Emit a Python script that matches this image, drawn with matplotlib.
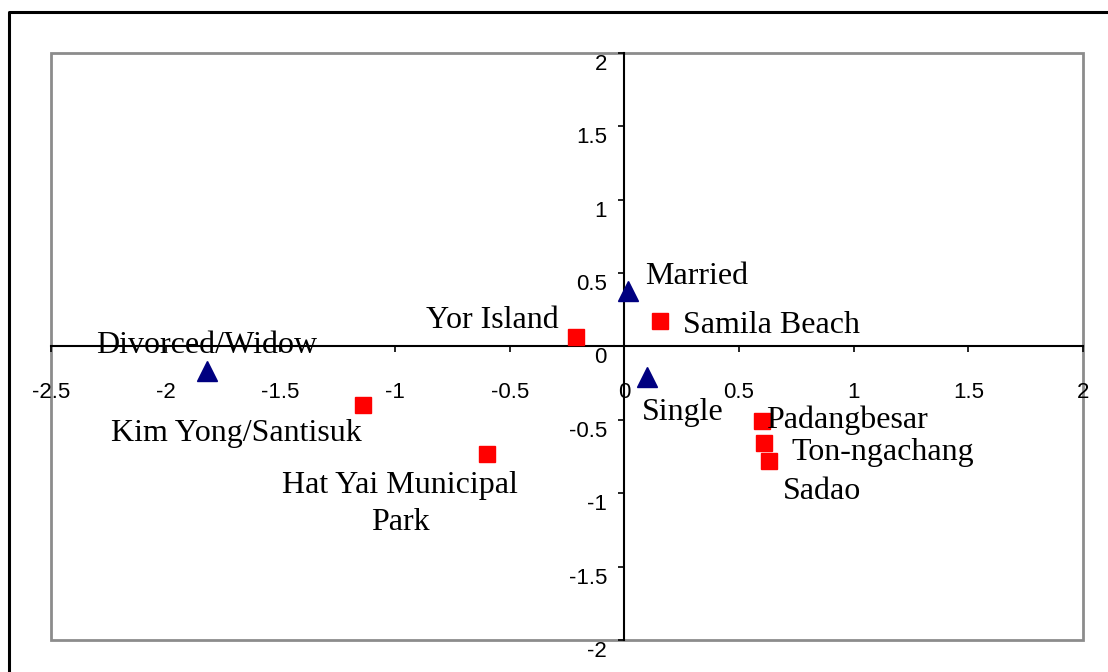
import matplotlib
matplotlib.use("Agg")
import matplotlib.pyplot as plt
from matplotlib.patches import Rectangle
from matplotlib.lines import Line2D
from matplotlib.transforms import ScaledTranslation

# Data
site_names = ["Samila Beach", "Yor Island", "Kim Yong/Santisuk", "Hat Yai Municipal\nPark",
              "Padangbesar", "Ton-ngachang", "Sadao"]
site_x = [0.155, -0.21, -1.14, -0.60, 0.60, 0.61, 0.63]
site_y = [0.174, 0.065, -0.40, -0.73, -0.51, -0.66, -0.78]

status_names = ["Married", "Single", "Divorced/Widow"]
status_x = [0.015, 0.10, -1.82]
status_y = [0.38, -0.21, -0.17]

xticks = [-2.5, -2, -1.5, -1, -0.5, 0, 0.5, 1, 1.5, 2]
xticklabels = ["-2.5", "-2", "-1.5", "-1", "-0.5", "0", "0.5", "1", "1.5", "2"]
yticks = [-2, -1.5, -1, -0.5, 0, 0.5, 1, 1.5, 2]
yticklabels = ["-2", "-1.5", "-1", "-0.5", "0", "0.5", "1", "1.5", "2"]

# label placement (position, alignment)
site_label_pos = [(0.254, 0.146, "left"), (-0.285, 0.18, "right"), (-2.24, -0.59, "left"),
                  (-0.978, -1.073, "center"), (0.617, -0.50, "left"), (0.729, -0.72, "left"),
                  (0.690, -0.985, "left")]
status_label_pos = [(0.09, 0.48, "left"), (0.076, -0.45, "left"), (-2.304, 0.01, "left")]

W, H = 1108, 672
fig = plt.figure(figsize=(W / 100, H / 100), dpi=100)
ax = fig.add_axes([51 / W, 1 - 640 / H, (1083 - 51) / W, (640 - 53) / H])

ax.set_xlim(-2.5, 2)
ax.set_ylim(-2, 2)

for s in ["top", "right"]:
    ax.spines[s].set_visible(False)
for s in ["left", "bottom"]:
    ax.spines[s].set_position(("data", 0))
    ax.spines[s].set_color("black")
    ax.spines[s].set_linewidth(1.5)
    ax.spines[s].set_zorder(1)

ax.add_patch(Rectangle((0, 0), 1, 1, transform=ax.transAxes, fill=False,
                       edgecolor="#8c8c8c", linewidth=2, zorder=0, clip_on=False))

ax.set_xticks(xticks)
ax.set_xticklabels(xticklabels)
ax.set_yticks(yticks)
ax.set_yticklabels(yticklabels)
ax.tick_params(axis="x", direction="out", length=4.5, width=1.2, pad=21,
               labelsize=16)
ax.tick_params(axis="y", direction="out", length=4.5, width=1.2, pad=8,
               labelsize=16)
for lab in ax.get_xticklabels() + ax.get_yticklabels():
    lab.set_fontfamily("Liberation Sans")
for lab in ax.get_yticklabels():
    lab.set_transform(lab.get_transform() + ScaledTranslation(0, -9 / 100, fig.dpi_scale_trans))

ax.plot(site_x, site_y, linestyle="none", marker="s", markersize=11,
        color="#ff0000", zorder=3)
ax.plot(status_x, status_y, linestyle="none", marker="^", markersize=14,
        color="#000080", zorder=3)

for name, (x, y, ha) in zip(site_names, site_label_pos):
    ax.text(x, y, name, ha=ha, va="center", fontsize=23, family="Liberation Serif",
            multialignment="center", linespacing=1.4, zorder=4)
for name, (x, y, ha) in zip(status_names, status_label_pos):
    ax.text(x, y, name, ha=ha, va="center", fontsize=23, family="Liberation Serif", zorder=4)

# outer chart border
fig.add_artist(Line2D([8.5 / W, 8.5 / W, 1.0], [0.0, 1 - 12 / H, 1 - 12 / H],
                      transform=fig.transFigure, color="black", linewidth=2.2))

fig.savefig("out.png", dpi=100)
